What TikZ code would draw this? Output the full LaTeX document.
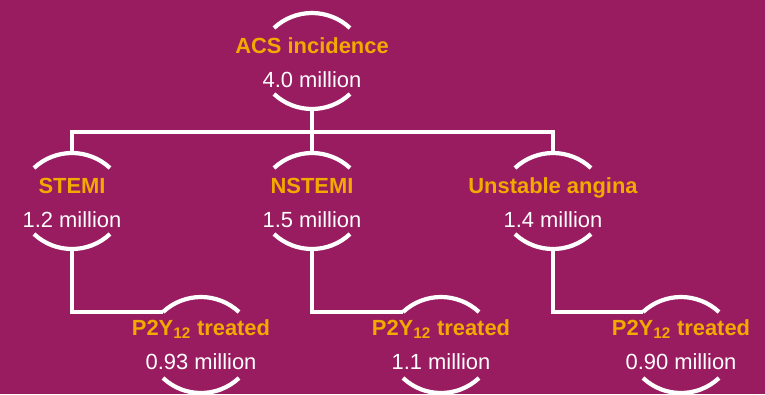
\documentclass[tikz,border=0pt]{standalone}
\usepackage{fontspec}
\setmainfont{Liberation Sans}
\usetikzlibrary{calc}

\definecolor{bgpurple}{RGB}{153,27,96}
\definecolor{headorange}{RGB}{242,169,0}

\tikzset{
    wire/.style={draw=white, line width=4.2bp},
    headtext/.style={text=headorange, font=\bfseries\fontsize{22}{24}\selectfont, inner sep=0pt, anchor=base},
    numtext/.style={text=white, font=\fontsize{22}{24}\selectfont, inner sep=0pt, anchor=base},
}

\begin{document}
\begin{tikzpicture}[x=1bp,y=1bp]
                    \fill[bgpurple] (0,0) rectangle (765,-394);
                    \useasboundingbox (0,0) rectangle (765,-394);

                    % ring centres
                    \coordinate (acs) at (312,-61);
                    \coordinate (stemi) at (72,-201);
                    \coordinate (nstemi) at (312,-201);
                    \coordinate (ua) at (553,-201);
                    \coordinate (ptA) at (201,-345);
                    \coordinate (ptB) at (441,-345);
                    \coordinate (ptC) at (681,-345);

                    \foreach \r in {acs,stemi,nstemi,ua,ptA,ptB,ptC}{
                        \draw[wire] ($(\r)+(-38,33)$) arc[start angle=133.1,end angle=46.9,radius=55.6];
                        \draw[wire] ($(\r)+(-38,-33)$) arc[start angle=-133.1,end angle=-46.9,radius=55.6];
                        \coordinate (\r-top) at ($(\r)+(0,48)$);
                        \coordinate (\r-bot) at ($(\r)+(0,-48)$);
                        \coordinate (\r-left) at ($(\r)+(-38,33)$);
                    }

                    \node[headtext] (acs-head) at ($(acs)+(0,8)$) {ACS incidence};
                    \node[numtext] (acs-num) at ($(acs)+(0,-26)$) {4.0 million};

                    \node[headtext] (stemi-head) at ($(stemi)+(0,8)$) {STEMI};
                    \node[numtext] (stemi-num) at ($(stemi)+(0,-26)$) {1.2 million};

                    \node[headtext] (nstemi-head) at ($(nstemi)+(0,8)$) {NSTEMI};
                    \node[numtext] (nstemi-num) at ($(nstemi)+(0,-26)$) {1.5 million};

                    \node[headtext] (ua-head) at ($(ua)+(0,8)$) {Unstable angina};
                    \node[numtext] (ua-num) at ($(ua)+(0,-26)$) {1.4 million};

                    \node[headtext] (ptA-head) at ($(ptA)+(0,10)$) {P2Y\textsubscript{12} treated};
                    \node[numtext] (ptA-num) at ($(ptA)+(0,-24)$) {0.93 million};

                    \node[headtext] (ptB-head) at ($(ptB)+(0,10)$) {P2Y\textsubscript{12} treated};
                    \node[numtext] (ptB-num) at ($(ptB)+(0,-24)$) {1.1 million};

                    \node[headtext] (ptC-head) at ($(ptC)+(0,10)$) {P2Y\textsubscript{12} treated};
                    \node[numtext] (ptC-num) at ($(ptC)+(0,-24)$) {0.90 million};

                    % tree
                    \coordinate (bus) at (0,-132);
                    \draw[wire] (acs-bot) -- (nstemi-top);
                    \draw[wire] (stemi-top) -- (stemi-top |- bus) -- (ua-top |- bus) -- (ua-top);
                    \draw[wire] (stemi-bot) |- (ptA-left);
                    \draw[wire] (nstemi-bot) |- (ptB-left);
                    \draw[wire] (ua-bot) |- (ptC-left);
                \end{tikzpicture}
\end{document}
